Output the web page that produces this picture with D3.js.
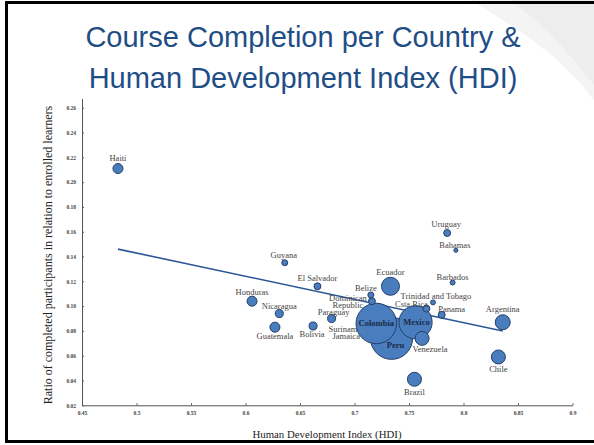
<!DOCTYPE html>
<html lang="en">
<head>
  <meta charset="UTF-8">
  <title>Course Completion per Country & HDI</title>
  <script src="https://d3js.org/d3.v7.min.js"></script>
  <style>
    body {
      margin: 0;
      background-color: #fff;
    }
    svg {
      display: block;
    }
    .title {
      font-family: "Liberation Sans", Arial, sans-serif;
      font-size: 29px;
      fill: #1f4e86;
    }
    .axis text {
      font-family: "Liberation Serif", "Times New Roman", serif;
      font-size: 5.5px;
      font-weight: bold;
      fill: #444;
    }
    .axis path,
    .axis line {
      fill: none;
      stroke: #555;
      stroke-width: 1;
    }
    .axis-label {
      font-family: "Liberation Serif", "Times New Roman", serif;
      font-size: 12px;
      fill: #222;
    }
    .x-label {
      font-size: 10.8px;
    }
    .country {
      font-family: "Liberation Serif", "Times New Roman", serif;
      font-size: 8.5px;
      fill: #444;
    }
    .country.big {
      font-weight: bold;
      fill: #1a2b45;
    }
  </style>
</head>
<body>
  <div id="chart"></div>

  <script>
    // Data
    const countries = ['Peru', 'Colombia', 'Mexico', 'Ecuador', 'Argentina', 'Chile', 'Brazil',
      'Venezuela', 'Haiti', 'Honduras', 'Guatemala', 'Nicaragua', 'Bolivia', 'Paraguay',
      'El Salvador', 'Dominican Republic', 'Costa Rica', 'Panama', 'Uruguay', 'Guyana',
      'Belize', 'Barbados', 'Trinidad and Tobago', 'Bahamas', 'Surinam', 'Jamaica'];
    const hdi = [0.734, 0.720, 0.756, 0.733, 0.836, 0.832, 0.755,
      0.762, 0.483, 0.606, 0.627, 0.631, 0.662, 0.679,
      0.666, 0.716, 0.766, 0.780, 0.785, 0.636,
      0.715, 0.790, 0.772, 0.793, 0.705, 0.708];
    const ratio = [0.074, 0.086, 0.087, 0.116, 0.087, 0.059, 0.041,
      0.074, 0.211, 0.104, 0.083, 0.094, 0.084, 0.090,
      0.116, 0.104, 0.098, 0.093, 0.159, 0.135,
      0.109, 0.119, 0.103, 0.145, 0.083, 0.079];
    const learners = [440, 410, 275, 81, 56, 49, 49,
      49, 25, 25, 25, 16, 16, 16,
      12, 12, 12, 12, 12, 9,
      9, 6, 6, 4, 2, 2];
    const shownNames = { 'Costa Rica': 'Csta Rica', 'Dominican Republic': ['Dominican', 'Republic'] };

    // Trend line end points
    const trendHdi = [0.483, 0.836];
    const trendRatio = [0.146, 0.080];

    const xTicks = [0.45, 0.5, 0.55, 0.6, 0.65, 0.7, 0.75, 0.8, 0.85, 0.9];
    const yTicks = [0.02, 0.04, 0.06, 0.08, 0.10, 0.12, 0.14, 0.16, 0.18, 0.20, 0.22, 0.24, 0.26];

    // Label placement relative to each bubble centre [dx, dy]
    const labelOffset = {
      'Peru': [4, 10], 'Colombia': [0, 3], 'Mexico': [1, 3], 'Ecuador': [0, -11],
      'Argentina': [0, -10], 'Chile': [0, 15], 'Brazil': [0, 15.5], 'Venezuela': [8, 14],
      'Haiti': [0, -8], 'Honduras': [0, -6], 'Guatemala': [0, 11.5], 'Nicaragua': [0, -4.5],
      'Bolivia': [-1, 11.5], 'Paraguay': [2, -3.5], 'El Salvador': [0, -5],
      'Dominican Republic': [-24, -0.5], 'Costa Rica': [-15, -2], 'Panama': [10, -3],
      'Uruguay': [-1, -6], 'Guyana': [-1, -5], 'Belize': [-5, -3.5], 'Barbados': [0, -2.5],
      'Trinidad and Tobago': [3, -3.5], 'Bahamas': [-1, -2], 'Surinam': [-17, 4.5],
      'Jamaica': [-17, 6.5]
    };

    const rows = countries.map((c, i) => ({ country: c, hdi: hdi[i], ratio: ratio[i], learners: learners[i] }));

    const width = 594;
    const height = 445;

    const svg = d3.select('#chart')
      .append('svg')
      .attr('width', width)
      .attr('height', height);

    // slide background swoosh
    svg.append('path')
      .attr('d', 'M470,0 C520,30 560,55 594,100 L594,0 Z')
      .attr('fill', '#f4f4f4');
    svg.append('path')
      .attr('d', 'M510,0 C545,25 575,60 594,85 L594,0 Z')
      .attr('fill', '#ededed');

    // slide frame
    svg.append('rect')
      .attr('x', 6.5)
      .attr('y', 2.5)
      .attr('width', 600)
      .attr('height', 439)
      .attr('fill', 'none')
      .attr('stroke', '#000')
      .attr('stroke-width', 3);

    // Title
    svg.append('text')
      .attr('class', 'title')
      .attr('text-anchor', 'middle')
      .attr('x', 303)
      .attr('y', 47)
      .text('Course Completion per Country &');
    svg.append('text')
      .attr('class', 'title')
      .attr('text-anchor', 'middle')
      .attr('x', 303)
      .attr('y', 88)
      .text('Human Development Index (HDI)');

    // Scales
    const xScale = d3.scaleLinear()
      .domain([0.45, 0.9])
      .range([82, 572.5]);

    const yScale = d3.scaleLinear()
      .domain([0.02, 0.2675])
      .range([405.3, 98.5]);

    const rScale = d3.scaleSqrt()
      .domain([0, d3.max(learners)])
      .range([0, 21]);

    // Axes
    svg.append('g')
      .attr('class', 'axis')
      .attr('transform', 'translate(0,405.3)')
      .call(d3.axisBottom(xScale).tickValues(xTicks).tickSize(-2).tickSizeOuter(0).tickPadding(6)
        .tickFormat(d => String(+d.toFixed(2))));

    svg.append('g')
      .attr('class', 'axis')
      .attr('transform', 'translate(82,0)')
      .call(d3.axisLeft(yScale).tickValues(yTicks).tickSize(-2).tickSizeOuter(0).tickPadding(6)
        .tickFormat(d3.format('.2f')));

    // Trend line
    const line = d3.line()
      .x(d => xScale(d[0]))
      .y(d => yScale(d[1]));

    svg.append('path')
      .datum(d3.zip(trendHdi, trendRatio))
      .attr('d', line)
      .attr('fill', 'none')
      .attr('stroke', '#2b5797')
      .attr('stroke-width', 1.6);

    // Bubbles, largest first
    const sorted = rows.slice().sort((a, b) => b.learners - a.learners);

    svg.append('g')
      .selectAll('circle')
      .data(sorted)
      .join('circle')
      .attr('cx', d => xScale(d.hdi))
      .attr('cy', d => yScale(d.ratio))
      .attr('r', d => rScale(d.learners))
      .attr('fill', d => d.learners <= 2 ? 'none' : '#4a7dbd')
      .attr('stroke', d => d.learners <= 2 ? '#5b7fb0' : '#223f6a')
      .attr('stroke-width', d => d.learners <= 2 ? 0.7 : 1);

    // Country labels
    const labels = svg.append('g')
      .selectAll('text')
      .data(sorted)
      .join('text')
      .attr('class', d => d.learners > 200 ? 'country big' : 'country')
      .attr('text-anchor', 'middle')
      .attr('x', d => xScale(d.hdi) + labelOffset[d.country][0])
      .attr('y', d => yScale(d.ratio) + labelOffset[d.country][1]);

    labels.each(function (d) {
      const name = shownNames[d.country] || d.country;
      const sel = d3.select(this);
      if (Array.isArray(name)) {
        name.forEach((part, i) => {
          sel.append('tspan')
            .attr('x', xScale(d.hdi) + labelOffset[d.country][0])
            .attr('dy', i === 0 ? 0 : 7)
            .text(part);
        });
      } else {
        sel.text(name);
      }
    });

    // y-axis label
    svg.append('text')
      .attr('class', 'axis-label')
      .attr('text-anchor', 'middle')
      .attr('transform', 'rotate(-90)')
      .attr('x', -255)
      .attr('y', 52)
      .text('Ratio of completed participants in relation to enrolled learners');

    // x-axis label
    svg.append('text')
      .attr('class', 'axis-label x-label')
      .attr('text-anchor', 'middle')
      .attr('x', 327)
      .attr('y', 438)
      .text('Human Development Index (HDI)');
  </script>
</body>
</html>
